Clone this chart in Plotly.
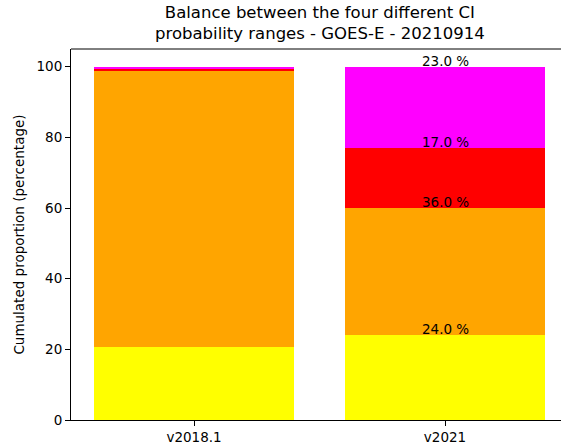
import plotly.graph_objects as go

# Cumulated proportion of each CI probability range per product version
versions = ["v2018.1", "v2021"]
range_1 = [20.8, 24.0]   # yellow
range_2 = [78.2, 36.0]   # orange
range_3 = [0.4, 17.0]    # red
range_4 = [0.6, 23.0]    # magenta
y_ticks = [0, 20, 40, 60, 80, 100]

series = [range_1, range_2, range_3, range_4]
colors = ["#ffff00", "#ffa500", "#ff0000", "#ff00ff"]

FONT = "DejaVu Sans"
W, H = 561, 447

fig = go.Figure()
for vals, col in zip(series, colors):
    fig.add_trace(go.Bar(
        x=versions, y=vals, width=0.8, marker=dict(color=col, line=dict(width=0)),
        showlegend=False, hoverinfo="skip",
    ))

# Percentage labels at the top of each v2021 segment
cum = 0.0
for vals in series:
    cum += vals[1]
    fig.add_annotation(
        x=versions[1], y=cum, text=f"{vals[1]:.1f} %", showarrow=False,
        xanchor="center", yanchor="bottom", yshift=-4,
        font=dict(family=FONT, size=13.5, color="black"),
    )

# Two-line chart title above the axes
fig.add_annotation(
    text="Balance between the four different CI<br>probability ranges - GOES-E - 20210914",
    xref="paper", yref="paper", x=(320 - 71) / (W - 71), y=1,
    xanchor="center", yanchor="bottom", yshift=4, showarrow=False,
    font=dict(family=FONT, size=16.5, color="black"),
)

# Top frame line (right frame falls outside the canvas)
fig.add_shape(type="line", xref="paper", yref="paper", x0=0, x1=1, y0=1, y1=1,
              line=dict(color="black", width=1))

fig.update_layout(
    width=W, height=H,
    barmode="stack",
    plot_bgcolor="white", paper_bgcolor="white",
    margin=dict(l=71, r=0, t=49, b=27),
    font=dict(family=FONT, size=13.5, color="black"),
    xaxis=dict(
        range=[-0.49, 1.462], showgrid=False, zeroline=False,
        showline=True, linecolor="black", linewidth=1,
        ticks="outside", ticklen=5, tickcolor="black", tickwidth=1,
    ),
    yaxis=dict(
        range=[0, 105], tickvals=y_ticks, showgrid=False, zeroline=False,
        showline=True, linecolor="black", linewidth=1,
        ticks="outside", ticklen=5, tickcolor="black", tickwidth=1,
        title=dict(text="Cumulated proportion (percentage)", standoff=8,
                   font=dict(family=FONT, size=13.5)),
    ),
)

fig.write_html("out.html")
